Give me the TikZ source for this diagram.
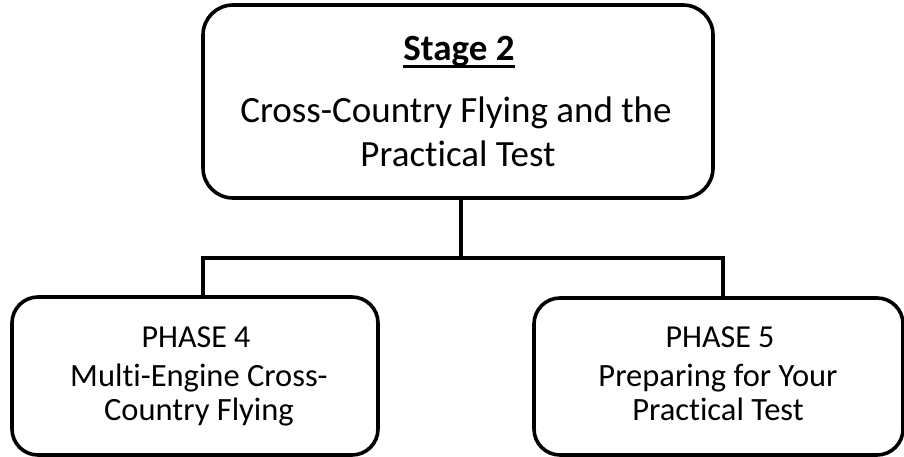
\documentclass[tikz,border=0pt]{standalone}
\usepackage{fontspec}
\setmainfont{Carlito}[Ligatures=NoCommon]
\begin{document}
\begin{tikzpicture}[x=1pt,y=-1pt,
  box/.style={draw=black, line width=3.6pt, rounded corners=26pt, outer sep=0pt, inner sep=0pt},
  conn/.style={draw=black, line width=3.6pt, line join=miter},
  bigtxt/.style={inner sep=0pt, anchor=base, font=\fontsize{37}{44}\selectfont},
  headtxt/.style={inner sep=0pt, anchor=base, font=\fontsize{32}{34}\selectfont},
  smalltxt/.style={inner sep=0pt, anchor=base, align=center, font=\fontsize{32.5}{34}\selectfont}]
\useasboundingbox (0,0) rectangle (904,457);
% boxes
\node[box, minimum width=510pt, minimum height=193pt, rounded corners=30pt] (top) at (458,101.5) {};
\node[box, minimum width=366pt, minimum height=158pt] (p4) at (195,376) {};
\node[box, minimum width=369pt, minimum height=157pt] (p5) at (718.5,376.5) {};
% texts
\node[bigtxt] (stage) at (459,61) {\bfseries Stage 2};
\draw[line width=2.2pt] ([yshift=-5.5pt]stage.base west) -- ([yshift=-5.5pt]stage.base east);
\node[bigtxt] (t1) at (456,123) {Cross-Country Flying and the};
\node[bigtxt] (t2) at (458,167) {Practical Test};
\node[headtxt] (h4) at (196,347) {PHASE 4};
\node[smalltxt] (m4) at (199,386) {Multi-Engine Cross-};
\node[smalltxt] (c4) at (199,420) {Country Flying};
\node[headtxt] (h5) at (720,347) {PHASE 5};
\node[smalltxt] (m5) at (718,386) {Preparing for Your};
\node[smalltxt] (c5) at (718,420) {Practical Test};
% connectors
\coordinate (barL) at (203,258);
\coordinate (barR) at (723,258);
\coordinate (barM) at (461,258);
\draw[conn] (top.south -| barM) -- (barM);
\draw[conn] (barL |- p4.north) -- (barL) -- (barR) -- (barR |- p5.north);
\end{tikzpicture}
\end{document}
